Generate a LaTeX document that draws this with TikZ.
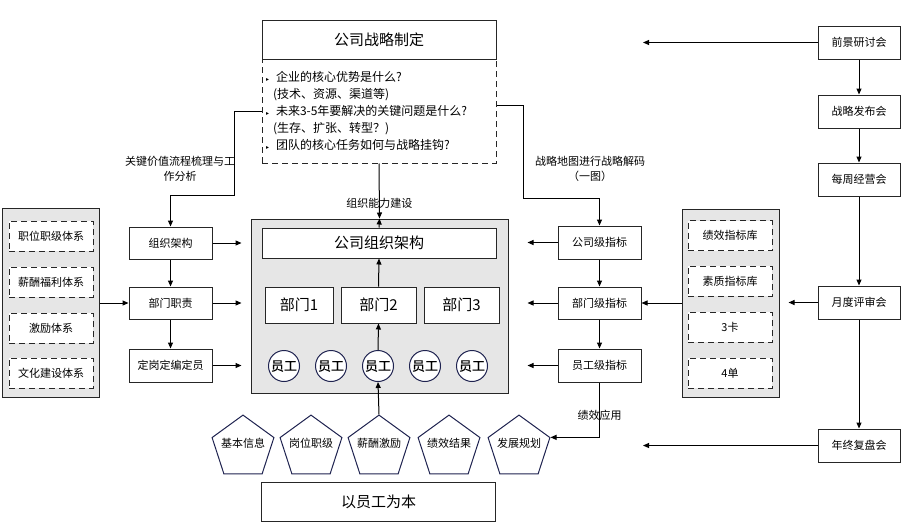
\documentclass[tikz,border=0pt]{standalone}
\usepackage{fontspec}
\setmainfont{Noto Sans CJK SC}
\newfontfamily\symfont{DejaVu Sans}
\newfontfamily\stafffont[FakeBold=0.6]{Noto Sans CJK SC}
\usetikzlibrary{arrows.meta,shapes.geometric}
\definecolor{edgegray}{HTML}{262626}
\definecolor{panelgray}{HTML}{E6E6E6}
\definecolor{navyline}{HTML}{1F2350}
\newcommand{\qbul}{\makebox[10pt][l]{\symfont\fontsize{6}{6}\selectfont ▸}}

\begin{document}
\begin{tikzpicture}[x=1pt, y=-1pt, line width=1pt, >={Triangle[length=6pt,width=5pt]},
    box/.style={draw=edgegray, fill=white, rectangle, minimum width=83pt, minimum height=32pt, inner sep=0pt, font=\fontsize{11}{14}\selectfont},
    bigbox/.style={draw=edgegray, fill=white, rectangle, minimum width=234pt, minimum height=39pt, inner sep=0pt, font=\fontsize{15}{18}\selectfont},
    deptbox/.style={draw=edgegray, fill=white, rectangle, minimum width=75pt, minimum height=36pt, inner sep=0pt, font=\fontsize{15}{18}\selectfont},
    panel/.style={draw=edgegray, fill=panelgray, rectangle, inner sep=0pt},
    dashbox/.style={draw=edgegray, dash pattern=on 6pt off 4pt, fill=white, rectangle, minimum width=84pt, minimum height=30pt, inner sep=0pt, font=\fontsize{11}{14}\selectfont},
    staff/.style={circle, draw=navyline, fill=white, minimum size=31pt, inner sep=0pt, font=\stafffont\fontsize{13}{15}\selectfont},
    penta/.style={regular polygon, regular polygon sides=5, draw=navyline, fill=white, minimum size=65pt, inner sep=0pt},
    note/.style={font=\fontsize{11}{15}\selectfont, align=center, inner sep=0pt}]
    \useasboundingbox (0,0) rectangle (901,522);

    % Strategy (top)
    \node[bigbox] (strat_title) at (379,39.5) {公司战略制定};
    \node[draw=edgegray, dash pattern=on 6pt off 4pt, minimum width=234pt, minimum height=104pt, text width=226pt, inner sep=4pt, align=left, font=\fontsize{12}{17}\selectfont] (strat_q) at (379,111) {\qbul 企业的核心优势是什么?\\
        \hspace*{7pt}(技术、资源、渠道等)\\
        \qbul 未来3-5年要解决的关键问题是什么?\\
        \hspace*{7pt}(生存、扩张、转型？)\\
        \qbul 团队的核心任务如何与战略挂钩?};

    % Company organisation (centre)
    \node[panel, minimum width=257pt, minimum height=174pt] (org_frame) at (379.5,306) {};
    \node[bigbox, minimum height=30pt] (org_chart) at (379,243) {公司组织架构};
    \node[deptbox, minimum width=68pt] (dept1) at (299,305) {部门1};
    \node[deptbox] (dept2) at (378.5,305) {部门2};
    \node[deptbox] (dept3) at (461.5,305) {部门3};
    \node[staff] (emp1) at (284,366) {员工};
    \node[staff] (emp2) at (331,366) {员工};
    \node[staff] (emp3) at (378,366) {员工};
    \node[staff] (emp4) at (425,366) {员工};
    \node[staff] (emp5) at (472,366) {员工};

    % Systems (left panel)
    \node[panel, minimum width=97pt, minimum height=189pt] (sys_frame) at (50.5,302.5) {};
    \node[dashbox] (sys1) at (51,236) {职位职级体系};
    \node[dashbox] (sys2) at (51,282) {薪酬福利体系};
    \node[dashbox] (sys3) at (51,328) {激励体系};
    \node[dashbox] (sys4) at (51,373) {文化建设体系};

    % Organisation design (left column)
    \node[box] (org_struct) at (170.5,243) {组织架构};
    \node[box] (dept_duty) at (170.5,303) {部门职责};
    \node[box, minimum height=33pt] (posts) at (170.5,365.5) {定岗定编定员};

    % Indicators (right column)
    \node[box, minimum height=33pt] (kpi_co) at (599.5,242.5) {公司级指标};
    \node[box] (kpi_dept) at (599.5,303) {部门级指标};
    \node[box, minimum height=33pt] (kpi_emp) at (599.5,365.5) {员工级指标};

    % Libraries (right panel)
    \node[panel, minimum width=97pt, minimum height=188pt] (lib_frame) at (730.5,303) {};
    \node[dashbox] (lib1) at (730,235.5) {绩效指标库};
    \node[dashbox] (lib2) at (730,281) {素质指标库};
    \node[dashbox] (lib3) at (730,327) {3卡};
    \node[dashbox] (lib4) at (730,373) {4单};

    % Meetings (far right)
    \node[box, minimum width=82pt, minimum height=33pt] (meet1) at (859,42.5) {前景研讨会};
    \node[box, minimum width=82pt, minimum height=33pt] (meet2) at (859,111.5) {战略发布会};
    \node[box, minimum width=82pt, minimum height=33pt] (meet3) at (859,179.5) {每周经营会};
    \node[box, minimum width=82pt, minimum height=33pt] (meet4) at (859,302.5) {月度评审会};
    \node[box, minimum width=82pt, minimum height=33pt] (meet5) at (859,445.5) {年终复盘会};
    \coordinate (fb_top) at (643,42.5);
    \coordinate (fb_bot) at (643,445.5);

    % Employee data (bottom)
    \foreach \i/\x/\t in {1/243/基本信息, 2/311/岗位职级, 3/379/薪酬激励, 4/449/绩效结果, 5/519/发展规划} {
        \node[penta] (pent\i) at (\x,447.6) {};
        \node[note] (ptext\i) at ([yshift=4.5pt]pent\i.center) {\t};
    }
    \node[bigbox] (base) at (378.5,501.5) {以员工为本};

    % Edges
    \draw[->] (strat_q.south) -- node[note, pos=0.72] (cap_label) {组织能力建设} (org_frame.north);
    \draw[->] (org_chart.north) -- (org_frame.north);
    \draw[->] (dept2.north) -- (org_chart.south);
    \draw[->] (emp3.north) -- (dept2.south);
    \draw[->] (pent3.corner 1) -- (emp3.south);

    \draw[->] (strat_q.west) -- ++(-27,0) -- ++(0,84) -| (org_struct.north);
    \node[note] (flow_label) at (180,169) {关键价值流程梳理与工\\作分析};
    \draw[->] (org_struct) -- (dept_duty);
    \draw[->] (dept_duty) -- (posts);
    \foreach \n in {org_struct, dept_duty, posts}
        \draw[->, shorten >=9pt] (\n.east) -- (\n -| org_frame.west);
    \draw[->] (sys_frame.east |- dept_duty.west) -- (dept_duty.west);

    \draw[->] ([yshift=6pt]strat_q.east) -- ++(27,0) -- ++(0,93) -| (kpi_co.north);
    \node[note] (map_label) at (590,169) {战略地图进行战略解码\\（一图）};
    \draw[->] (kpi_co) -- (kpi_dept);
    \draw[->] (kpi_dept) -- (kpi_emp);
    \foreach \n in {kpi_co, kpi_dept, kpi_emp}
        \draw[->, shorten >=19pt] (\n.west) -- (\n -| org_frame.east);
    \draw[->] (lib_frame.west |- kpi_dept.east) -- (kpi_dept.east);
    \draw[->] (kpi_emp.south) |- node[note, pos=0.3] (use_label) {绩效应用} (pent5.corner 5);

    \draw[->] (meet1) -- (meet2);
    \draw[->] (meet2) -- (meet3);
    \draw[->] (meet3) -- (meet4);
    \draw[->] (meet4) -- (meet5);
    \draw[->] (meet1.west) -- (fb_top);
    \draw[->, shorten >=9pt] (meet4.west) -- (meet4 -| lib_frame.east);
    \draw[->] (meet5.west) -- (fb_bot);
\end{tikzpicture}
\end{document}
